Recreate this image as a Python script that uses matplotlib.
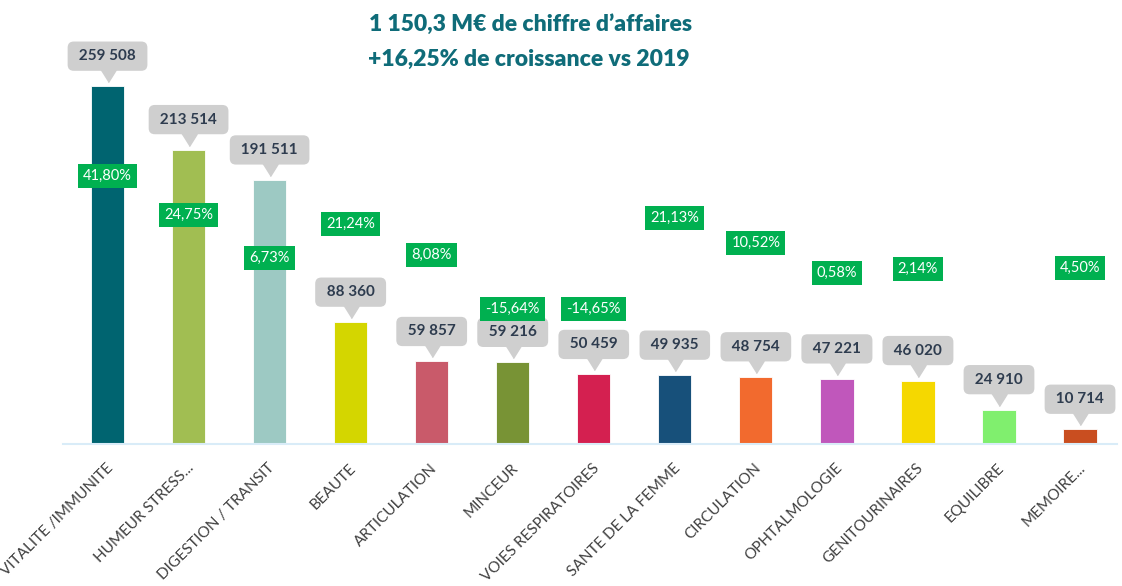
import matplotlib.pyplot as plt
from matplotlib.transforms import offset_copy

categories = ["VITALITE /IMMUNITE", "HUMEUR STRESS...", "DIGESTION / TRANSIT", "BEAUTE",
              "ARTICULATION", "MINCEUR", "VOIES RESPIRATOIRES", "SANTE DE LA FEMME",
              "CIRCULATION", "OPHTALMOLOGIE", "GENITOURINAIRES", "EQUILIBRE", "MEMOIRE..."]
sales = [259508, 213514, 191511, 88360, 59857, 59216, 50459, 49935, 48754, 47221, 46020, 24910, 10714]
growth = [41.80, 24.75, 6.73, 21.24, 8.08, -15.64, -14.65, 21.13, 10.52, 0.58, 2.14, None, 4.50]

# where the green growth boxes sit (data units)
growth_y = [194300, 166000, 134800, 159500, 137000, 97900, 97900, 163800, 145700, 124000, 126900, None, 127600]

colors = ["#006470", "#a1be52", "#9dc9c3", "#d4d600", "#c95a6a", "#789335", "#d42050",
          "#17507a", "#f26a2e", "#c057bb", "#f5d800", "#80ef6e", "#c94e20"]

plt.rcParams['font.family'] = ['Lato', 'DejaVu Sans']

fig = plt.figure(figsize=(11.22, 5.86), dpi=100)
ax = fig.add_axes([0.0561, 0.2423, 0.939, 0.7577])

x = list(range(len(categories)))
ax.bar(x, sales, width=0.41, color=colors, edgecolor='white', linewidth=0.6, zorder=2)

ax.set_xlim(-0.55, 12.45)
ax.set_ylim(0, 322000)
for s in ['top', 'right', 'left']:
    ax.spines[s].set_visible(False)
ax.spines['bottom'].set_color('#d9ecf8')
ax.spines['bottom'].set_linewidth(1.5)
ax.set_xticks([])
ax.set_yticks([])

tri = [(-1, 0.8), (1, 0.8), (0, -0.8)]
for i, v in enumerate(sales):
    # gray callout
    t_tri = offset_copy(ax.transData, fig=fig, x=0, y=10, units='dots')
    ax.plot(i, v, marker=tri, ms=11, color='#cfcfcf', transform=t_tri, clip_on=False, zorder=3)
    t_box = offset_copy(ax.transData, fig=fig, x=0, y=23, units='dots')
    lab = " " + f"{v:,}".replace(",", " ") + " "
    ax.text(i, v, lab, transform=t_box, ha='center', va='bottom', fontsize=11,
            fontweight='bold', color='#2e3c4f', zorder=4, clip_on=False,
            bbox=dict(boxstyle='round,pad=0.5,rounding_size=0.4', fc='#cfcfcf', ec='none'))

    # growth label
    if growth[i] is not None:
        g = f"{growth[i]:.2f}%".replace(".", ",")
        ax.text(i, growth_y[i], g, ha='center', va='center', fontsize=10.5, color='white',
                zorder=5, bbox=dict(boxstyle='square,pad=0.35', fc='#00b050', ec='none'))

    # category label
    t_lab = offset_copy(ax.get_xaxis_transform(), fig=fig, x=3, y=-22, units='dots')
    ax.text(i, 0, categories[i], transform=t_lab, rotation=45, rotation_mode='anchor',
            ha='right', va='center', fontsize=11, color='#404040', clip_on=False)

fig.text(0.329, 0.958, "1 150,3 M€ de chiffre d’affaires", ha='left', va='center',
         fontsize=16.5, fontweight='heavy', color='#0f6c79')
fig.text(0.328, 0.898, "+16,25% de croissance vs 2019", ha='left', va='center',
         fontsize=16.5, fontweight='heavy', color='#0f6c79')

fig.savefig("out.png", dpi=100)
